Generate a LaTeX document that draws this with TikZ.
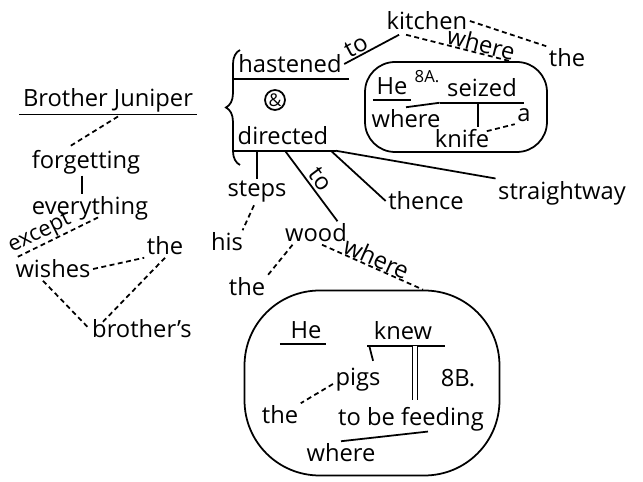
\documentclass[tikz,border=0pt]{standalone}
\usepackage{fontspec}
\setmainfont{Open Sans}
\usetikzlibrary{calc,decorations.pathreplacing}

\begin{document}
\begin{tikzpicture}[x=0.02cm,y=-0.02cm,line width=1pt,
	wd/.style={inner sep=1pt,font=\fontsize{13.5}{15}\selectfont},
	sm/.style={inner sep=1pt,font=\fontsize{9.5}{10}\selectfont},
	dsh/.style={dash pattern=on 2.8pt off 2pt}]
	\useasboundingbox (0,0) rectangle (643,482);
	\node[wd] (BJ) at (108,100) {Brother Juniper};
	\node[wd] (F) at (86,162) {forgetting};
	\node[wd] (E) at (90,208) {everything};
	\node[wd] (W) at (53,269) {wishes};
	\node[wd] (T1) at (165,246) {the};
	\node[wd] (Br) at (142,329) {brother's};
	\node[wd] (Hast) at (290,64) {hastened};
	\node[circle,draw,inner sep=0pt,minimum size=0.4cm,font=\fontsize{10}{11}\selectfont] (Amp) at (275,100) {\&};
	\node[wd] (Dir) at (283,136) {directed};
	\node[wd] (Kit) at (427,21) {kitchen};
	\node[wd] (T2) at (567,58) {the};
	\node[draw,rounded corners=0.6cm,minimum width=3.64cm,minimum height=1.8cm] (BoxA) at (456,107) {};
	\node[wd] (HeA) at (392,86) {He};
	\node[sm] (NA) at (427,77) {8A.};
	\node[wd] (Sz) at (482,88) {seized};
	\node[wd] (WhA) at (406,119) {where};
	\node[wd] (K) at (462,139) {knife};
	\node[wd] (A) at (524,115) {a};
	\node[wd] (Str) at (562,193) {straightway};
	\node[wd] (St) at (257,192) {steps};
	\node[wd] (His) at (227,242) {his};
	\node[wd] (Th) at (426,201) {thence};
	\node[wd] (Wd) at (316,233) {wood};
	\node[wd] (T3) at (247,287) {the};
	\node[draw,rounded corners=1.5cm,minimum width=5.1cm,minimum height=3.7cm] (BoxB) at (372,383) {};
	\node[wd] (HeB) at (306,330) {He};
	\node[wd] (Kn) at (403,331) {knew};
	\node[wd] (Pg) at (358,380) {pigs};
	\node[wd] (NB) at (458,378) {8B.};
	\node[wd] (T4) at (280,415) {the};
	\node[wd] (Fd) at (411,419) {to be feeding};
	\node[wd] (WhB) at (341,453) {where};
	\draw ($(BJ.south west)+(-1,0)$) -- ($(BJ.south east)+(1,0)$);
	\draw[dsh] ($(BJ.south)+(10,2)$) -- ($(F.north)+(-18,0)$);
	\draw ($(F.south)+(-4,-1)$) -- ($(E.north)+(-8,1)$);
	\draw[dsh] ($(E.south)+(8,-5)$) -- node[wd,sloped,above,pos=0.64,inner sep=0pt,font=\fontsize{12.5}{14}\selectfont] {except} ($(W.north west)+(2,1)$);
	\draw[dsh] (W.east) -- (T1.south west);
	\draw[dsh] (T1.south) -- ($(Br.north west)+(12,6)$);
	\draw[dsh] ($(W.south)+(-10,0)$) -- (Br.west);
	\draw[decorate,decoration={brace,amplitude=8pt}] (240,165) -- (240,50);
	\draw ($(Hast.south west)+(-3,3)$) -- ($(Hast.south east)+(5,3)$);
	\draw (Hast.east) -- node[wd,sloped,above,pos=0.3,inner sep=0.5pt] {to} ($(Kit.south west)+(15,2)$);
	\draw ($(Dir.south west)+(-3,3)$) -- ($(Dir.south east)+(5,3)$);
	\draw[dsh] (Kit.east) -- (T2.north west);
	\draw[dsh] ($(Kit.south west)+(22,2)$) -- node[wd,sloped,above,pos=0.7,inner sep=0pt] {where} ($(BoxA.north)+(54,0)$);
	\draw ($(HeA.south west)+(-1,3)$) -- ($(HeA.south east)+(1,3)$);
	\draw ($(Sz.south west)+(-5,3)$) -- ($(Sz.south east)+(5,3)$);
	\draw (WhA.north) -- ($(Sz.south west)+(-5,3)$);
	\draw ($(Sz.south)+(-4,3)$) -- ($(K.north)+(16,0)$);
	\draw[dsh] ($(K.north east)+(-5,4)$) -- (A.south west);
	\draw ($(Dir.south east)+(5,3)$) -- (Str.north west);
	\draw ($(St.north |- Dir.south)+(0,3)$) -- (St.north);
	\draw ($(Dir.south)+(2,3)$) -- node[wd,sloped,above,inner sep=1.5pt] {to} ($(Wd.north east)+(-12,0)$);
	\draw ($(Dir.south east)+(0,3)$) -- (Th.west);
	\draw[dsh] ($(St.south)+(-3,0)$) -- ($(His.north east)+(-3,0)$);
	\draw[dsh] ($(Wd.south west)+(10,0)$) -- (T3.north east);
	\draw[dsh] ($(Wd.south)+(6,0)$) -- node[wd,sloped,above,inner sep=0pt] {where} ($(BoxB.north)+(51,0)$);
	\draw ($(HeB.south west)+(-8,3)$) -- ($(HeB.south east)+(2,3)$);
	\draw ($(Kn.south west)+(-4,3)$) -- ($(Kn.south east)+(10,3)$);
	\draw ($(Kn.south west)+(-2,3)$) -- ($(Pg.north east)+(-10,-5)$);
	\draw[double,double distance=1.8pt] ($(Kn.south)+(12,3)$) -- ($(Fd.north)+(4,-4)$);
	\draw[dsh] ($(Pg.west)+(0,4)$) -- (T4.north east);
	\draw (WhB.north) -- ($(Fd.south)+(17,-2)$);
\end{tikzpicture}
\end{document}
